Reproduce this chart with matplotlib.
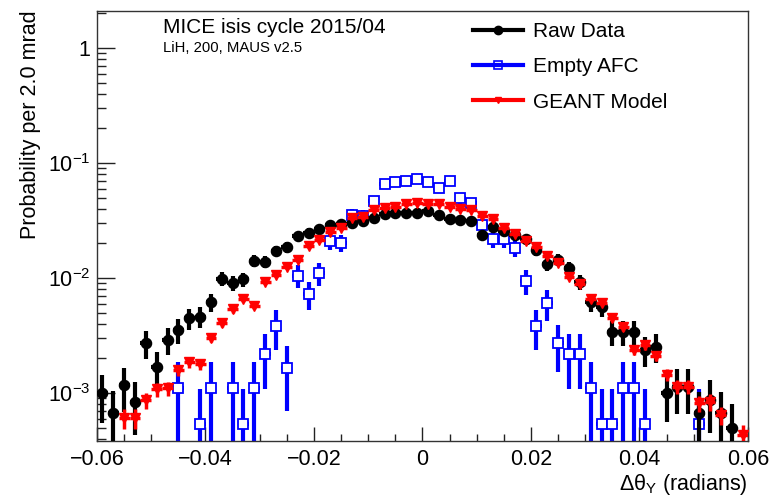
import numpy as np
import matplotlib
matplotlib.use('Agg')
import matplotlib.pyplot as plt
from matplotlib.lines import Line2D
from matplotlib.ticker import MultipleLocator, LogLocator, FixedLocator, FixedFormatter, NullFormatter

plt.rcParams['font.family'] = ['Liberation Sans', 'DejaVu Sans']
plt.rcParams['mathtext.fontset'] = 'custom'
plt.rcParams['mathtext.rm'] = 'Liberation Sans'
plt.rcParams['mathtext.it'] = 'Liberation Sans:italic'
plt.rcParams['mathtext.bf'] = 'Liberation Sans:bold'

nan = np.nan
x_min, x_max = -0.06, 0.06
bin_width = 0.002
n_bins = 60

raw_data = [1.00e-3, 6.7e-4, 1.17e-3, 8.4e-4, 2.70e-3, 1.69e-3, 2.89e-3, 3.53e-3, 4.47e-3, 4.61e-3,
            6.22e-3, 9.9e-3, 9.1e-3, 9.75e-3, 1.41e-2, 1.39e-2, 1.73e-2, 1.85e-2, 2.32e-2, 2.48e-2,
            2.67e-2, 2.89e-2, 2.98e-2, 3.03e-2, 3.15e-2, 3.30e-2, 3.60e-2, 3.70e-2, 3.65e-2, 3.67e-2,
            3.83e-2, 3.53e-2, 3.24e-2, 3.19e-2, 3.15e-2, 2.37e-2, 2.76e-2, 2.56e-2, 2.37e-2, 2.17e-2,
            1.75e-2, 1.32e-2, 1.44e-2, 1.23e-2, 9.3e-3, 6.22e-3, 5.62e-3, 3.41e-3, 3.41e-3, 3.41e-3,
            2.37e-3, 2.53e-3, 1.01e-3, 1.13e-3, 1.13e-3, 6.65e-4, 8.7e-4, 6.65e-4, 4.93e-4, nan]

empty_afc = [nan, nan, nan, nan, nan, nan, nan, 1.10e-3, nan, 5.37e-4,
             1.10e-3, nan, 1.10e-3, 5.37e-4, 1.10e-3, 2.18e-3, 3.83e-3, 1.64e-3, 1.05e-2, 7.22e-3,
             1.10e-2, 2.10e-2, 2.03e-2, 3.57e-2, 3.44e-2, 4.70e-2, 6.53e-2, 6.79e-2, 6.93e-2, 7.22e-2,
             6.84e-2, 6.10e-2, 6.97e-2, 4.93e-2, 4.49e-2, 2.89e-2, 2.17e-2, 2.17e-2, 1.83e-2, 9.42e-3,
             3.83e-3, 6.03e-3, 2.73e-3, 2.18e-3, 2.18e-3, 1.10e-3, 5.37e-4, 5.37e-4, 1.10e-3, 1.10e-3,
             5.37e-4, nan, nan, nan, nan, 5.37e-4, nan, nan, nan, nan]

geant_model = [nan, nan, 6.06e-4, 6.06e-4, 8.7e-4, 1.08e-3, 1.10e-3, 1.58e-3, 1.87e-3, 1.79e-3,
               3.03e-3, 4.08e-3, 5.34e-3, 6.53e-3, 5.71e-3, 9.29e-3, 1.06e-2, 1.25e-2, 1.44e-2, 1.90e-2,
               2.14e-2, 2.53e-2, 2.70e-2, 3.30e-2, 3.37e-2, 3.90e-2, 4.03e-2, 4.17e-2, 4.40e-2, 4.51e-2,
               4.40e-2, 4.40e-2, 4.12e-2, 3.98e-2, 3.90e-2, 3.46e-2, 3.24e-2, 2.70e-2, 2.40e-2, 2.10e-2,
               1.85e-2, 1.55e-2, 1.36e-2, 1.03e-2, 8.87e-3, 6.53e-3, 6.03e-3, 4.47e-3, 3.78e-3, 2.37e-3,
               2.61e-3, 2.10e-3, 1.44e-3, 1.13e-3, 1.13e-3, 8.13e-4, 8.4e-4, 6.44e-4, nan, 4.32e-4]

# probability carried by a single event in each sample
raw_unit, afc_unit, geant_unit = 2.0e-4, 5.4e-4, 2.2e-5

labels = ['Raw Data', 'Empty AFC', 'GEANT Model']
y_ticks = [1e-3, 1e-2, 1e-1, 1.0]
y_tick_labels = [r'$\mathregular{10^{-3}}$', r'$\mathregular{10^{-2}}$', r'$\mathregular{10^{-1}}$', '1']
x_ticks = [-0.06, -0.04, -0.02, 0, 0.02, 0.04, 0.06]
x_tick_labels = ['\u22120.06', '\u22120.04', '\u22120.02', '0', '0.02', '0.04', '0.06']

W, H = 782, 496
fig = plt.figure(figsize=(W / 100, H / 100), dpi=100)
ax = fig.add_axes([97 / W, 1 - 441 / H, (748 - 97) / W, (441 - 11) / H])
ax.set_yscale('log')

centers = x_min + bin_width * (np.arange(n_bins) + 0.5)


def draw(vals, unit, color, marker, ms, mfc, mew, lw, z):
    v = np.array(vals, dtype=float)
    m = ~np.isnan(v)
    xv, yv = centers[m], v[m]
    err = np.sqrt(yv * unit)
    lo = np.minimum(err, yv * 0.999999)
    ax.errorbar(xv, yv, yerr=[lo, err], xerr=bin_width / 2, fmt=marker, color=color,
                ms=ms, mfc=mfc, mec=color, mew=mew, elinewidth=lw, capsize=0, zorder=z)


draw(empty_afc, afc_unit, '#0000ff', 's', 7.8, 'white', 1.3, 3.0, 2)
draw(raw_data, raw_unit, 'black', 'o', 7.3, 'black', 1.0, 3.0, 3)
draw(geant_model, geant_unit, '#ff0000', 'v', 7.3, '#ff0000', 1.0, 2.5, 4)

ax.set_xlim(x_min, x_max)
ax.set_ylim(3.83e-4, 2.10)

ax.xaxis.set_major_locator(FixedLocator(x_ticks))
ax.xaxis.set_major_formatter(FixedFormatter(x_tick_labels))
ax.xaxis.set_minor_locator(MultipleLocator(0.005))
ax.yaxis.set_major_locator(FixedLocator(y_ticks))
ax.yaxis.set_major_formatter(FixedFormatter(y_tick_labels))
ax.yaxis.set_minor_locator(LogLocator(base=10, subs=np.arange(2, 10)))
ax.yaxis.set_minor_formatter(NullFormatter())

ax.tick_params(axis='both', which='both', direction='in', top=False, right=False,
               width=1.0, color='#222222', labelsize=15.5)
ax.tick_params(axis='x', which='major', length=10, pad=6)
ax.tick_params(axis='x', which='minor', length=5)
ax.tick_params(axis='y', which='major', length=13, pad=5)
ax.tick_params(axis='y', which='minor', length=6.5)
for s in ax.spines.values():
    s.set_linewidth(1.0)
    s.set_color('#333333')

fig.text(748 / W, 1 - 490 / H, r'$\mathregular{\Delta\theta_{Y}}$ (radians)', ha='right',
         va='baseline', fontsize=15.5)
fig.text(31 / W, 1 - 10 / H, 'Probability per 2.0 mrad', rotation=90, ha='center',
         va='top', fontsize=15.5)
fig.text(163 / W, 1 - 33 / H, 'MICE isis cycle 2015/04', ha='left', va='baseline', fontsize=15)
fig.text(163 / W, 1 - 52 / H, 'LiH, 200, MAUS v2.5', ha='left', va='baseline', fontsize=10.7)

handles = [
    Line2D([], [], color='black', lw=3, marker='o', ms=6, mfc='black', mec='black'),
    Line2D([], [], color='#0000ff', lw=3, marker='s', ms=6, mfc='none', mec='#0000ff', mew=1.2),
    Line2D([], [], color='#ff0000', lw=3, marker='v', ms=5, mfc='#ff0000', mec='#ff0000'),
]
fig.legend(handles, labels, loc='upper left', bbox_to_anchor=(473 / W, 1 - 22 / H),
           frameon=False, fontsize=15, handlelength=2.4, handletextpad=0.5,
           labelspacing=0.78, borderpad=0, borderaxespad=0)

fig.savefig('out.png', dpi=100)
